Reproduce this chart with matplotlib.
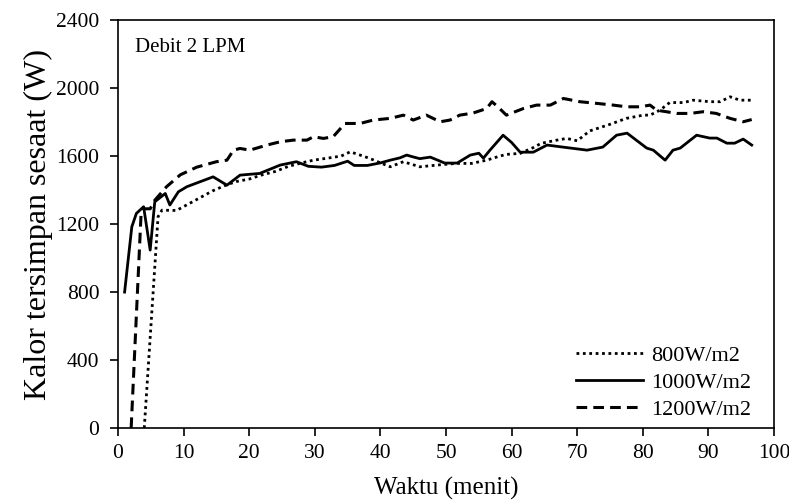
import matplotlib
matplotlib.use("Agg")
import matplotlib.pyplot as plt

# waktu (menit) dan kalor tersimpan sesaat (W) tiap intensitas
t_800 = [4.0, 6.1, 6.7, 8.9, 11.3, 14.4, 16.5, 18, 20, 22, 24, 26, 28, 29.8, 32.3, 34,
         35.4, 36.9, 38.4, 40, 41.5, 43.5, 46, 48.6, 51.6, 53.9, 56.2, 58.2, 59.2, 61.3,
         63.3, 64.5, 66.9, 68.4, 70, 71.9, 75, 77.5, 80.1, 81.1, 82.6, 84.1, 86.2, 87.7,
         90.2, 91.8, 93.3, 94.8, 96.6]
q_800 = [0, 1243, 1282, 1280, 1330, 1395, 1430, 1450, 1465, 1490, 1510, 1540, 1560, 1576,
         1590, 1600, 1625, 1606, 1586, 1560, 1537, 1567, 1537, 1547, 1557, 1557, 1576, 1600,
         1610, 1616, 1650, 1675, 1694, 1704, 1690, 1748, 1787, 1822, 1841, 1841, 1870, 1915,
         1915, 1929, 1920, 1920, 1949, 1929, 1929]

t_1000 = [1, 2.1, 2.8, 3.9, 4.9, 5.6, 7.2, 7.9, 9.2, 10.5, 12.5, 14.5, 16.6, 18.6, 21.6,
          24.7, 27.2, 29, 31, 33, 35, 36, 38, 40, 41.5, 43, 44, 45, 46, 47.6, 49.8, 51.7,
          53.7, 55, 55.7, 56.7, 58.7, 60, 61.3, 63.3, 65.4, 67.8, 71.5, 73.9, 76, 77.6,
          80.6, 81.6, 83.4, 84.6, 85.7, 88.2, 90.2, 91.3, 92.8, 94, 95.3, 96.6]
q_1000 = [800, 1184, 1263, 1302, 1047, 1331, 1380, 1312, 1390, 1420, 1449, 1478, 1429, 1488,
          1498, 1547, 1567, 1540, 1535, 1545, 1570, 1545, 1545, 1560, 1576, 1590, 1606, 1595,
          1585, 1594, 1559, 1559, 1606, 1617, 1588, 1635, 1723, 1680, 1623, 1623, 1665, 1653,
          1635, 1653, 1723, 1735, 1647, 1635, 1576, 1635, 1647, 1723, 1706, 1706, 1676, 1676,
          1700, 1665]

t_1200 = [2.0, 3.5, 3.9, 4.9, 5.6, 7.4, 9.5, 12, 15, 16.6, 17.6, 18.6, 20.1, 22.7, 24.7,
          26.7, 28.8, 29.8, 31.3, 32.8, 34.6, 36.9, 38.9, 41.5, 43.5, 45, 47, 49.1, 50.6,
          52.1, 54.1, 56.2, 57, 57.9, 59.2, 61.8, 63.8, 65.9, 67.9, 70.4, 73, 75.5, 77.5,
          79.6, 81.1, 82.1, 83.6, 85.2, 87.2, 89.2, 91.2, 93.3, 95.3, 96.6]
q_1200 = [0, 1250, 1290, 1290, 1340, 1420, 1490, 1535, 1567, 1576, 1635, 1645, 1635, 1665,
          1684, 1694, 1694, 1714, 1704, 1714, 1792, 1792, 1812, 1822, 1841, 1812, 1841, 1802,
          1812, 1841, 1853, 1880, 1920, 1890, 1841, 1880, 1900, 1900, 1939, 1920, 1910, 1900,
          1890, 1890, 1900, 1870, 1861, 1851, 1851, 1861, 1851, 1822, 1802, 1815]

labels = ["800W/m2", "1000W/m2", "1200W/m2"]
x_ticks = list(range(0, 101, 10))
y_ticks = list(range(0, 2401, 400))

plt.rcParams['font.family'] = ['Liberation Serif', 'DejaVu Serif']

fig = plt.figure(figsize=(7.89, 5.03), dpi=100)
ax = fig.add_axes([0.1496, 0.149, 0.8314, 0.811])

ax.plot(t_800, q_800, color='black', linestyle=(0, (1, 1.3)), linewidth=2.0, label=labels[0])
ax.plot(t_1000, q_1000, color='black', linestyle='-', linewidth=2.0, label=labels[1])
ax.plot(t_1200, q_1200, color='black', linestyle=(0, (3.5, 2)), linewidth=2.2, label=labels[2])

ax.set_xlim(0, 100)
ax.set_ylim(0, 2400)
ax.set_xticks(x_ticks)
ax.set_yticks(y_ticks)
ax.tick_params(direction='out', length=5.5, width=1.2, labelsize=15.5, top=False, right=False)
ax.tick_params(axis='y', pad=8)
ax.tick_params(axis='x', pad=6)
for s in ax.spines.values():
    s.set_linewidth(1.2)

ax.set_xlabel("Waktu (menit)", fontsize=18, labelpad=10)
ax.set_ylabel("Kalor tersimpan sesaat (W)", fontsize=23, labelpad=2)
ax.text(0.026, 0.934, "Debit 2 LPM", transform=ax.transAxes, fontsize=15, va='center')

ax.legend(loc='lower right', frameon=False, fontsize=16, handlelength=3.0,
          handletextpad=0.35, labelspacing=0.3, borderaxespad=0.0,
          bbox_to_anchor=(0.978, -0.002))

fig.savefig("out.png", dpi=100)
